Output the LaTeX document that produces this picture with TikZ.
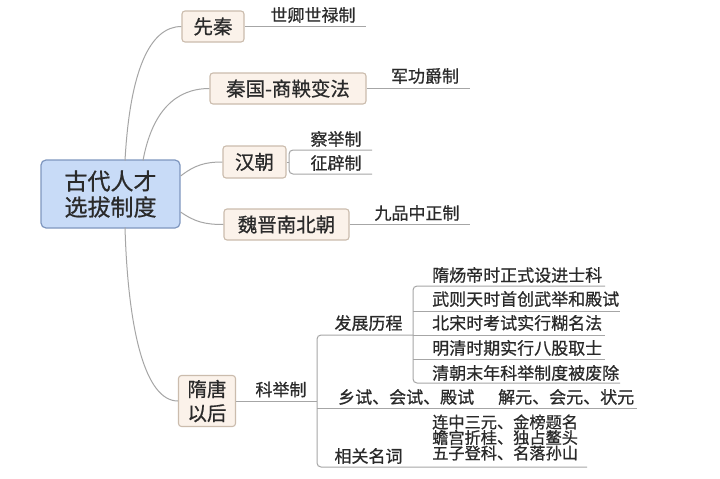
\documentclass[tikz,border=0pt]{standalone}
\usepackage{fontspec}
\setmainfont{Noto Sans CJK SC}
\newfontfamily\cjk[RawFeature={embolden=0.7}]{Noto Sans CJK SC}
\definecolor{lncol}{HTML}{A6A6A6}
\definecolor{txtcol}{HTML}{2A2A2A}
\definecolor{rootfill}{HTML}{C8DBF7}
\definecolor{rootdraw}{HTML}{7F97BF}
\definecolor{mainfill}{HTML}{FBF2EA}
\definecolor{maindraw}{HTML}{CBBCAD}
\tikzset{
  ln/.style={draw=lncol, line width=1pt},
  rootbox/.style={draw=rootdraw, fill=rootfill, line width=1.2pt, rounded corners=5pt,
    inner sep=0pt, align=center, text=txtcol, font=\cjk\fontsize{23}{26}\selectfont},
  mainbox/.style={draw=maindraw, fill=mainfill, line width=1.1pt, rounded corners=3pt,
    inner sep=0pt, align=center, text=txtcol, font=\cjk\fontsize{19.5}{24}\selectfont},
  leaf/.style={inner sep=0pt, text=txtcol, font=\cjk\fontsize{17}{20}\selectfont},
  leafs/.style={inner sep=0pt, text=txtcol, font=\cjk\fontsize{16.2}{18}\selectfont},
}
\begin{document}
\begin{tikzpicture}[x=1pt,y=-1pt]
\useasboundingbox (0,0) rectangle (720,479);
\fill[white] (0,0) rectangle (720,479);

% main nodes
\node[rootbox, minimum width=139pt, minimum height=68pt] (root) at (110.5,194) {古代人才\\选拔制度};
\node[mainbox, minimum width=62pt, minimum height=31pt] (xq) at (213,26.5) {先秦};
\node[mainbox, minimum width=156pt, minimum height=31pt] (qg) at (288,88.5) {秦国-商鞅变法};
\node[mainbox, minimum width=63pt, minimum height=32pt] (hc) at (254.5,162) {汉朝};
\node[mainbox, minimum width=125pt, minimum height=31pt] (wj) at (286.5,224.5) {魏晋南北朝};
\node[mainbox, minimum width=57pt, minimum height=51pt] (st) at (207,401) {隋唐\\以后};

% curves from root
\coordinate (r1) at (125,160.5);
\coordinate (r2) at (143,160.5);
\coordinate (r3) at (125,227.5);
\draw[ln] (r1) .. controls (130,70) and (150,26.5) .. (xq.west);
\draw[ln] (r2) .. controls (152,112) and (175,88.5) .. (qg.west);
\draw[ln] (root.east|-0,176) .. controls (195,165) and (205,162) .. (hc.west);
\draw[ln] (root.east|-0,212) .. controls (195,222) and (205,224.5) .. (wj.west);
\draw[ln] (r3) .. controls (128,330) and (145,401) .. (st.west);

% 先秦
\coordinate (e1) at (366,26.5);
\draw[ln] (xq.east) -- (e1);
\node[leaf] (l1) at (313,15) {世卿世禄制};

% 秦国
\coordinate (e2) at (470,88.5);
\draw[ln] (qg.east) -- (e2);
\node[leaf] (l2) at (425,76) {军功爵制};

% 汉朝
\coordinate (hb) at (289,162);
\coordinate (h1) at (372,150);
\coordinate (h2) at (372,174);
\draw[ln] (hc.east) -- (hb);
\draw[ln, rounded corners=4pt] (h1) -- (289,150) -- (289,174) -- (h2);
\node[leaf] (l3) at (336,139) {察举制};
\node[leaf] (l4) at (336,163) {征辟制};

% 魏晋
\coordinate (e3) at (470,224.5);
\draw[ln] (wj.east) -- (e3);
\node[leaf] (l5) at (417,213) {九品中正制};

% 隋唐 -> 科举制
\coordinate (kb) at (317,401);
\draw[ln] (st.east) -- (kb);
\node[leaf] (kj) at (281,389.5) {科举制};
\coordinate (k1) at (413,335);
\coordinate (k2) at (637,408);
\coordinate (k3) at (587,467);
\draw[ln, rounded corners=4pt] (k1) -- (317,335) -- (317,467) -- (k3);
\draw[ln] (317,408) -- (k2);
\node[leaf] (fz) at (368.5,323) {发展历程};
\node[leaf, anchor=west] (xs) at (338,397) {乡试、会试、殿试};
\node[leaf, anchor=west] (jy) at (498,397) {解元、会元、状元};
\node[leaf] (xg) at (368.5,456) {相关名词};

% 发展历程 items
\coordinate (d1) at (605,286);
\coordinate (d2) at (620,311);
\coordinate (d3) at (605,335);
\coordinate (d4) at (605,359);
\coordinate (d5) at (620,383);
\draw[ln, rounded corners=4pt] (d1) -- (413,286) -- (413,383) -- (d5);
\draw[ln] (413,311) -- (d2);
\draw[ln] (k1) -- (d3);
\draw[ln] (413,359) -- (d4);
\node[leaf, anchor=west] (i1) at (432,275) {隋炀帝时正式设进士科};
\node[leaf, anchor=west] (i2) at (432,299) {武则天时首创武举和殿试};
\node[leaf, anchor=west] (i3) at (432,323) {北宋时考试实行糊名法};
\node[leaf, anchor=west] (i4) at (432,348) {明清时期实行八股取士};
\node[leaf, anchor=west] (i5) at (432,373) {清朝末年科举制度被废除};

% 相关名词 items
\node[leafs, anchor=west] (m1) at (432,422) {连中三元、金榜题名};
\node[leafs, anchor=west] (m2) at (432,437.5) {蟾宫折桂、独占鳌头};
\node[leafs, anchor=west] (m3) at (432,453) {五子登科、名落孙山};
\end{tikzpicture}
\end{document}
